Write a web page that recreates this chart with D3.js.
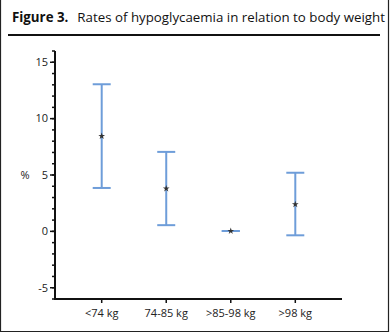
<!DOCTYPE html>
<html><head><meta charset="utf-8">
<script src="https://cdn.jsdelivr.net/npm/d3@7"></script>
<style>body{margin:0;background:#fff}svg{display:block}text{font-family:"Open Sans",sans-serif}</style>
</head><body>
<script>
const categories = ["<74 kg", "74-85 kg", ">85-98 kg", ">98 kg"];
const means = [8.45, 3.8, 0.03, 2.4];
const lower = [3.85, 0.55, 0.03, -0.35];
const upper = [13.05, 7.05, 0.03, 5.2];
const yTicks = [-5, 0, 5, 10, 15];
const titleBold = "Figure 3.";
const titleText = "Rates of hypoglycaemia in relation to body weight";
const yLabel = "%";

const W = 390, H = 333;
const svg = d3.select("body").append("svg").attr("width", W).attr("height", H);

// frame
svg.append("path").attr("d", `M0.5,0 V331.5 H388.5 V0`).attr("fill","none").attr("stroke","#222").attr("stroke-width",1.2);

const t = svg.append("text").attr("x", 12).attr("y", 22).attr("font-size", 13.3).attr("fill","#111");
t.append("tspan").attr("font-weight","bold").text(titleBold);
t.append("tspan").attr("dx", 9).text(titleText);
svg.append("line").attr("x1",8).attr("x2",380).attr("y1",35).attr("y2",35).attr("stroke","#111").attr("stroke-width",2.2);

const x = d3.scalePoint().domain(categories).range([101.7, 295.3]);
const y = d3.scaleLinear().domain([-6, 16]).range([299, 51]);

// y axis
const yAxisG = svg.append("g").attr("transform","translate(55,0)");
yAxisG.append("line").attr("y1", y(16)).attr("y2", y(-6)).attr("stroke","#111").attr("stroke-width",2);
yAxisG.selectAll(".minor").data(d3.range(-6, 17)).join("line")
  .attr("x1", -3).attr("x2", 0).attr("y1", d=>y(d)).attr("y2", d=>y(d)).attr("stroke","#111").attr("stroke-width",1.5);
yAxisG.selectAll(".major").data(yTicks).join("line")
  .attr("x1", -5).attr("x2", 0).attr("y1", d=>y(d)).attr("y2", d=>y(d)).attr("stroke","#111").attr("stroke-width",1.5);
yAxisG.selectAll(".lab").data(yTicks).join("text")
  .attr("x", -7).attr("y", d=>y(d)).attr("dy","0.35em").attr("text-anchor","end").attr("font-size",11).attr("fill","#222").text(d=>d);
svg.append("text").attr("x",25).attr("y",y(5)).attr("dy","0.35em").attr("text-anchor","middle").attr("font-size",11).attr("fill","#222").text(yLabel);

// x axis
const xAxisG = svg.append("g").attr("transform",`translate(0,${y(-6)})`);
xAxisG.append("line").attr("x1",54).attr("x2",342).attr("stroke","#111").attr("stroke-width",2);
xAxisG.selectAll(".tk").data(categories).join("line").attr("x1",d=>x(d)).attr("x2",d=>x(d)).attr("y1",0).attr("y2",4).attr("stroke","#111").attr("stroke-width",1.5);
xAxisG.selectAll(".lab").data(categories).join("text").attr("x",d=>x(d)).attr("y",18).attr("text-anchor","middle").attr("font-size",11).attr("fill","#222").text(d=>d);

// error bars
const col = "#6e9dd9";
const capW = 9;
const g = svg.append("g");
categories.forEach((c,i)=>{
  const cx = x(c);
  g.append("line").attr("x1",cx).attr("x2",cx).attr("y1",y(upper[i])).attr("y2",y(lower[i])).attr("stroke",col).attr("stroke-width",2);
  g.append("line").attr("x1",cx-capW).attr("x2",cx+capW).attr("y1",y(upper[i])).attr("y2",y(upper[i])).attr("stroke",col).attr("stroke-width",2);
  g.append("line").attr("x1",cx-capW).attr("x2",cx+capW).attr("y1",y(lower[i])).attr("y2",y(lower[i])).attr("stroke",col).attr("stroke-width",2);
  g.append("path").attr("d", d3.symbol(d3.symbolStar, 14)()).attr("transform",`translate(${cx},${y(means[i])})`).attr("fill","#333");
});
</script>
</body></html>
